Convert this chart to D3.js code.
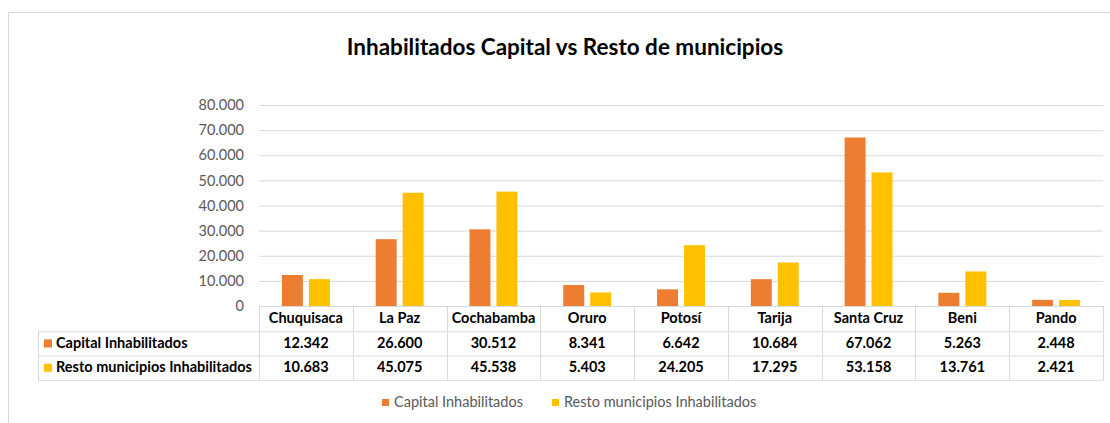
<!DOCTYPE html>
<html>
<head>
<meta charset="utf-8">
<script src="https://cdn.jsdelivr.net/npm/d3@7"></script>
<style>
  body { margin: 0; background: #fff; }
  svg { display: block; font-family: Lato, "Open Sans", sans-serif; }
</style>
</head>
<body>
<svg id="chart" width="1110" height="423"></svg>
<script>
// Data
var categories = ["Chuquisaca", "La Paz", "Cochabamba", "Oruro", "Potosí", "Tarija", "Santa Cruz", "Beni", "Pando"];
var seriesNames = ["Capital Inhabilitados", "Resto municipios Inhabilitados"];
var capital = [12342, 26600, 30512, 8341, 6642, 10684, 67062, 5263, 2448];
var resto = [10683, 45075, 45538, 5403, 24205, 17295, 53158, 13761, 2421];
var yTicks = [0, 10000, 20000, 30000, 40000, 50000, 60000, 70000, 80000];
var colors = ["#ED7D31", "#FFC000"];
var title = "Inhabilitados Capital vs Resto de municipios";

var seriesValues = [capital, resto];

var svg = d3.select("#chart");
var plotL = 259, plotR = 1103, plotT = 105, plotB = 306;
var rowH = 24.3;
var gridColor = "#d9d9d9";
var tableFont = 14.5;

var locale = d3.formatLocale({ decimal: ",", thousands: ".", grouping: [3], currency: ["", ""] });
var fmt = locale.format(",d");

// Outer frame
svg.append("path")
  .attr("d", "M8.5,423 L8.5,12.5 L1110,12.5")
  .attr("fill", "none")
  .attr("stroke", gridColor);

// Title
svg.append("text")
  .attr("x", 565)
  .attr("y", 49)
  .attr("text-anchor", "middle")
  .attr("dominant-baseline", "middle")
  .attr("font-size", 22.5)
  .attr("font-weight", "bold")
  .attr("fill", "#000")
  .text(title);

// Scales
var x = d3.scaleBand().domain(categories).range([plotL, plotR]).paddingInner(0).paddingOuter(0);
var xs = d3.scaleBand().domain([0, 1]).range([0, x.bandwidth()]).paddingInner(0.222).paddingOuter(0.85);
var y = d3.scaleLinear().domain([0, 80000]).range([plotB, plotT]);

// Gridlines + y axis
var yAxis = d3.axisLeft(y)
  .tickValues(yTicks)
  .tickSize(-(plotR - plotL))
  .tickPadding(15)
  .tickFormat(fmt);

var gy = svg.append("g")
  .attr("transform", "translate(" + plotL + ",0)")
  .call(yAxis);
gy.select(".domain").remove();
gy.selectAll(".tick line").attr("stroke", gridColor);
gy.selectAll(".tick text")
  .attr("fill", "#595959")
  .attr("font-size", 14.5)
  .attr("font-family", "Lato, sans-serif");

// Bars
var groups = svg.append("g").selectAll("g")
  .data(categories)
  .enter().append("g")
  .attr("transform", function(d) { return "translate(" + x(d) + ",0)"; });

groups.selectAll("rect")
  .data(function(d, i) { return [0, 1].map(function(s) { return { s: s, v: seriesValues[s][i] }; }); })
  .enter().append("rect")
  .attr("x", function(d) { return xs(d.s); })
  .attr("width", xs.bandwidth())
  .attr("y", function(d) { return y(d.v); })
  .attr("height", function(d) { return plotB - y(d.v); })
  .attr("fill", function(d) { return colors[d.s]; });

// Data table
var table = svg.append("g").attr("fill", "none").attr("stroke", gridColor);
var tLeft = 38.5;
var r0 = plotB, r1 = plotB + rowH + 1, r2 = r1 + rowH, r3 = r2 + rowH;
// horizontal lines
table.append("line").attr("x1", plotL).attr("x2", plotR).attr("y1", r0 + 0.5).attr("y2", r0 + 0.5);
[r1, r2, r3].forEach(function(r) {
  table.append("line").attr("x1", tLeft).attr("x2", plotR).attr("y1", r + 0.5).attr("y2", r + 0.5);
});
// vertical lines
table.append("line").attr("x1", tLeft).attr("x2", tLeft).attr("y1", r1).attr("y2", r3 + 0.5);
categories.forEach(function(c) {
  table.append("line").attr("x1", Math.round(x(c)) + 0.5).attr("x2", Math.round(x(c)) + 0.5).attr("y1", r0).attr("y2", r3 + 0.5);
});
table.append("line").attr("x1", plotR + 0.5).attr("x2", plotR + 0.5).attr("y1", r0).attr("y2", r3 + 0.5);

var cellText = svg.append("g")
  .attr("font-size", tableFont)
  .attr("font-weight", "bold")
  .attr("fill", "#000")
  .attr("text-anchor", "middle")
  .attr("dominant-baseline", "middle");

cellText.selectAll(".cat")
  .data(categories)
  .enter().append("text")
  .attr("class", "cat")
  .attr("x", function(d) { return x(d) + x.bandwidth() / 2; })
  .attr("y", (r0 + r1) / 2 + 1)
  .text(function(d) { return d; });

[r1, r2].forEach(function(r, s) {
  cellText.selectAll(".v" + s)
    .data(seriesValues[s])
    .enter().append("text")
    .attr("class", "v" + s)
    .attr("x", function(d, i) { return x(categories[i]) + x.bandwidth() / 2; })
    .attr("y", r + rowH / 2 + 1)
    .text(function(d) { return fmt(d); });

  svg.append("rect")
    .attr("x", 44).attr("y", r + rowH / 2 - 4)
    .attr("width", 8).attr("height", 8)
    .attr("fill", colors[s]);

  svg.append("text")
    .attr("x", 56)
    .attr("y", r + rowH / 2 + 1)
    .attr("dominant-baseline", "middle")
    .attr("font-size", tableFont)
    .attr("font-weight", "bold")
    .attr("fill", "#000")
    .text(seriesNames[s]);
});

// Legend
var legendX = [382, 552];
var legend = svg.append("g");
seriesNames.forEach(function(name, s) {
  legend.append("rect")
    .attr("x", legendX[s]).attr("y", 399)
    .attr("width", 7).attr("height", 7)
    .attr("fill", colors[s]);
  legend.append("text")
    .attr("x", legendX[s] + 12)
    .attr("y", 403)
    .attr("dominant-baseline", "middle")
    .attr("font-size", 14.5)
    .attr("fill", "#595959")
    .text(name);
});
</script>
</body>
</html>
